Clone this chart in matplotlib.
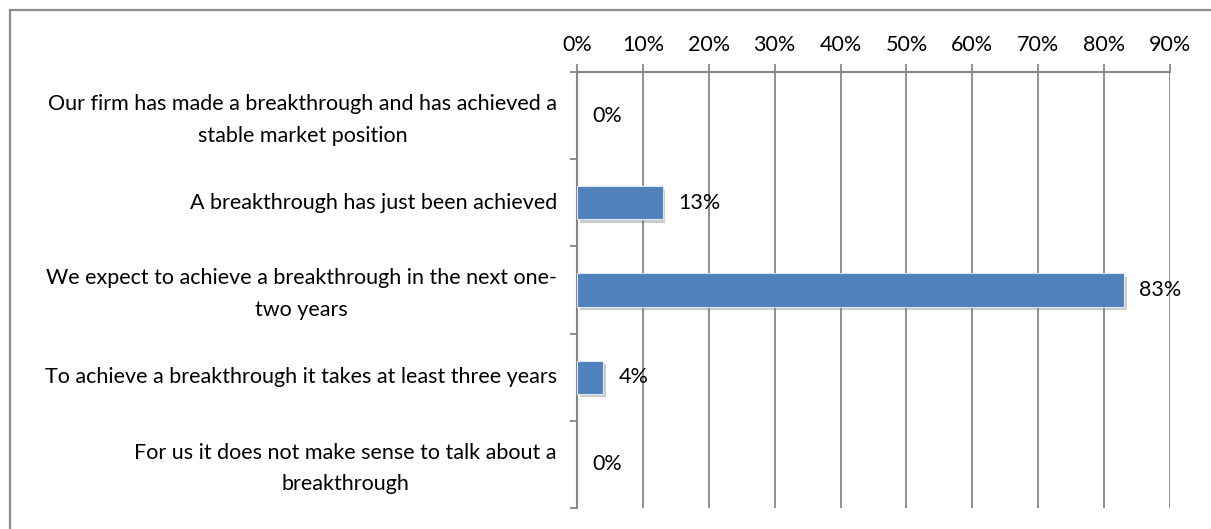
import matplotlib
matplotlib.use("Agg")
import matplotlib.pyplot as plt
import matplotlib.patheffects as pe
from matplotlib.lines import Line2D
from matplotlib.ticker import FixedLocator, PercentFormatter

plt.rcParams['font.family'] = ['Lato', 'DejaVu Sans']

categories = [
    "Our firm has made a breakthrough and has achieved a\nstable market position",
    "A breakthrough has just been achieved",
    "We expect to achieve a breakthrough in the next one-\ntwo years",
    "To achieve a breakthrough it takes at least three years",
    "For us it does not make sense to talk about a\nbreakthrough",
]
values = [0, 13, 83, 4, 0]
tick_values = [0, 10, 20, 30, 40, 50, 60, 70, 80, 90]

W, H = 1211, 529
fig = plt.figure(figsize=(W / 100, H / 100), dpi=100)
ax = fig.add_axes([577 / W, 1 - 508 / H, (1170 - 577) / W, (508 - 72) / H])

grey = "#878787"
bar_color = "#4F81BD"
fs = 15.5

ypos = list(range(len(categories)))
bars = ax.barh(ypos, values, height=0.38, color=bar_color,
               edgecolor="#dce6f2", linewidth=0.8, zorder=3)
for b, v in zip(bars, values):
    if v == 0:
        b.set_visible(False)
        continue
    b.set_path_effects([pe.SimplePatchShadow(offset=(2, -2.5), shadow_rgbFace="#808080", alpha=0.4),
                        pe.Normal()])

ax.set_xlim(0, 90)
ax.set_ylim(len(categories) - 0.5, -0.5)

ax.xaxis.tick_top()
ax.set_xticks(tick_values)
ax.xaxis.set_major_formatter(PercentFormatter(decimals=0))
ax.tick_params(axis="x", direction="out", length=6, width=1.3, color=grey,
               labelsize=fs, pad=6, labelcolor="black")
ax.grid(axis="x", color=grey, linewidth=1.3, zorder=0)

ax.yaxis.set_major_locator(FixedLocator([i - 0.5 for i in range(len(categories) + 1)]))
ax.set_yticklabels([])
ax.tick_params(axis="y", direction="out", length=5, width=1.3, color=grey)

for side in ("right", "bottom"):
    ax.spines[side].set_visible(False)
for side in ("left", "top"):
    ax.spines[side].set_color(grey)
    ax.spines[side].set_linewidth(1.5)

for y, label in zip(ypos, categories):
    dy = -3 if "\n" in label else 0
    ax.annotate(label, xy=(0, y), xycoords=("axes fraction", "data"),
                xytext=(-14.5, dy), textcoords="offset points",
                ha="right", va="center", multialignment="center",
                fontsize=fs, linespacing=1.72)

for y, v in zip(ypos, values):
    ax.annotate(f"{v}%", xy=(v, y), xytext=(11, 0), textcoords="offset points",
                ha="left", va="center", fontsize=fs, zorder=4)

# outer frame (top and left edges)
fig.add_artist(Line2D([10 / W, 10 / W], [0, 1 - 10 / H], color="#8c8c8c", linewidth=1.6))
fig.add_artist(Line2D([10 / W, 1], [1 - 10 / H, 1 - 10 / H], color="#8c8c8c", linewidth=1.6))

fig.savefig("out.png", dpi=100)
